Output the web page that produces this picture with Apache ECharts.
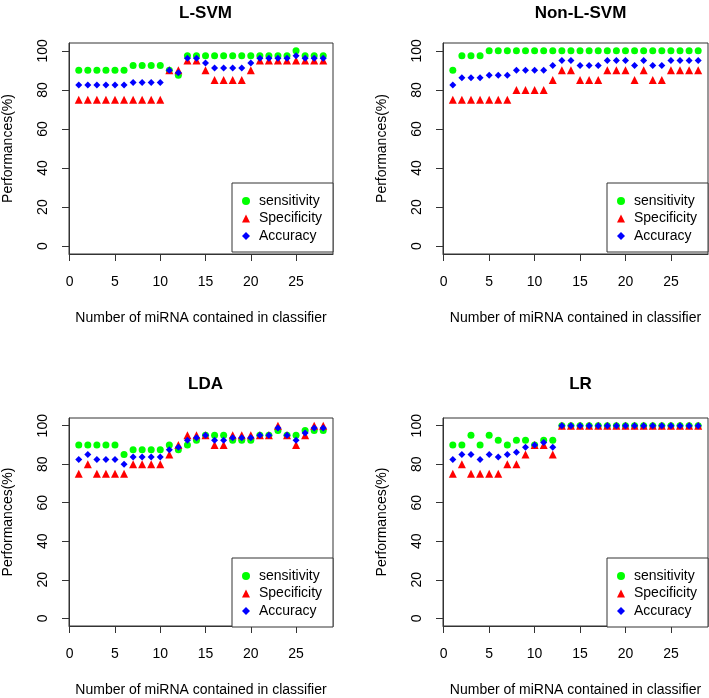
<!DOCTYPE html>
<html>
<head>
<meta charset="utf-8">
<script src="https://cdn.jsdelivr.net/npm/echarts@6/dist/echarts.min.js"></script>
<style>html,body{margin:0;padding:0;background:#fff;}#c{width:709px;height:698px;}</style>
</head>
<body>
<div id="c"></div>
<script>
const xValues = [1,2,3,4,5,6,7,8,9,10,11,12,13,14,15,16,17,18,19,20,21,22,23,24,25,26,27,28];
const xTicks = [0,5,10,15,20,25];
const yTicks = [0,20,40,60,80,100];
const panelTitles = ['L-SVM','Non-L-SVM','LDA','LR'];
const seriesNames = ['sensitivity','Specificity','Accuracy'];
const xTitle = 'Number of miRNA contained in classifier';
const yTitle = 'Performances(%)';

const svmSens = [90,90,90,90,90,90,92.5,92.5,92.5,92.5,90,87.5,97.5,97.5,97.5,97.5,97.5,97.5,97.5,97.5,97.5,97.5,97.5,97.5,100,97.5,97.5,97.5];
const svmSpec = [75,75,75,75,75,75,75,75,75,75,90,90,95,95,90,85,85,85,85,90,95,95,95,95,95,95,95,95];
const svmAcc  = [82.5,82.5,82.5,82.5,82.5,82.5,83.75,83.75,83.75,83.75,90,88.75,96.25,96.25,93.75,91.25,91.25,91.25,91.25,93.75,96.25,96.25,96.25,96.25,97.5,96.25,96.25,96.25];

const nlSens = [90,97.5,97.5,97.5,100,100,100,100,100,100,100,100,100,100,100,100,100,100,100,100,100,100,100,100,100,100,100,100];
const nlSpec = [75,75,75,75,75,75,75,80,80,80,80,85,90,90,85,85,85,90,90,90,85,90,85,85,90,90,90,90];
const nlAcc  = [82.5,86.25,86.25,86.25,87.5,87.5,87.5,90,90,90,90,92.5,95,95,92.5,92.5,92.5,95,95,95,92.5,95,92.5,92.5,95,95,95,95];

const ldaSens = [90,90,90,90,90,85,87.5,87.5,87.5,87.5,90,87.5,90,92.5,95,95,95,92.5,92.5,92.5,95,95,97.5,95,95,97.5,97.5,97.5];
const ldaSpec = [75,80,75,75,75,75,80,80,80,80,85,90,95,95,95,90,90,95,95,95,95,95,100,95,90,95,100,100];
const ldaAcc  = [82.5,85,82.5,82.5,82.5,80,83.75,83.75,83.75,83.75,87.5,88.75,92.5,93.75,95,92.5,92.5,93.75,93.75,93.75,95,95,98.75,95,92.5,96.25,98.75,98.75];

const lrSens = [90,90,95,90,95,92.5,90,92.5,92.5,90,92.5,92.5,100,100,100,100,100,100,100,100,100,100,100,100,100,100,100,100];
const lrSpec = [75,80,75,75,75,75,80,80,85,90,90,85,100,100,100,100,100,100,100,100,100,100,100,100,100,100,100,100];
const lrAcc  = [82.5,85,85,82.5,85,83.75,85,86.25,88.75,90,91.25,88.75,100,100,100,100,100,100,100,100,100,100,100,100,100,100,100,100];

const panelData = [
  [svmSens, svmSpec, svmAcc],
  [nlSens, nlSpec, nlAcc],
  [ldaSens, ldaSpec, ldaAcc],
  [lrSens, lrSpec, lrAcc]
];

const FONT = '"Liberation Sans", Arial, Helvetica, sans-serif';
const boxes = [
  {left: 68, top: 43, titleTop: 0},
  {left: 443, top: 43, titleTop: 0},
  {left: 68, top: 418, titleTop: 371},
  {left: 443, top: 418, titleTop: 371}
];
const BW = 265, BH = 211;
const symbols = [
  {symbol: 'circle', size: 7, color: '#00ff00'},
  {symbol: 'triangle', size: 8, color: '#ff0000'},
  {symbol: 'diamond', size: 7, color: '#0000ff'}
];

const grid = [], xAxis = [], yAxis = [], series = [], title = [], legend = [];
boxes.forEach((b, i) => {
  grid.push({left: b.left, top: b.top, width: BW, height: BH, show: true, borderColor: '#333', borderWidth: 1, backgroundColor: 'transparent', containLabel: false});
  xAxis.push({
    gridIndex: i, type: 'value', min: -0.08, max: 29.08,
    axisLine: {show: true, onZero: false, lineStyle: {color: '#333', width: 1}},
    splitLine: {show: false},
    axisTick: {show: true, inside: false, length: 7, customValues: xTicks, lineStyle: {color: '#333', width: 1}},
    axisLabel: {customValues: xTicks, fontSize: 14, fontFamily: FONT, color: '#000', margin: 21},
    name: xTitle, nameLocation: 'middle', nameGap: 57,
    nameTextStyle: {fontSize: 14, fontFamily: FONT, color: '#000'}
  });
  yAxis.push({
    gridIndex: i, type: 'value', min: -4, max: 104,
    axisLine: {show: true, onZero: false, lineStyle: {color: '#333', width: 1}},
    splitLine: {show: false},
    axisTick: {show: true, inside: false, length: 7, customValues: yTicks, lineStyle: {color: '#333', width: 1}},
    axisLabel: {customValues: yTicks, fontSize: 14, fontFamily: FONT, color: '#000', rotate: 90, align: 'center', verticalAlign: 'bottom', margin: 19},
    name: yTitle, nameLocation: 'middle', nameRotate: 90, nameGap: 54,
    nameTextStyle: {fontSize: 14, fontFamily: FONT, color: '#000'}
  });
  title.push({
    text: panelTitles[i], left: b.left + BW / 2, top: b.titleTop, textAlign: 'center',
    textStyle: {fontSize: 17, fontWeight: 'bold', fontFamily: FONT, color: '#000'}
  });
  legend.push({
    left: b.left + 164, top: b.top + 140, orient: 'vertical',
    padding: [10, 11, 8, 10], itemGap: 1.5, itemWidth: 8, itemHeight: 8,
    borderColor: '#333', borderWidth: 1, borderRadius: 0, backgroundColor: '#fff',
    selectedMode: false,
    textStyle: {fontSize: 14, fontFamily: FONT, color: '#000', lineHeight: 16, padding: [0, 0, 0, 4]},
    data: seriesNames.map((n, k) => ({name: n, icon: symbols[k].symbol, itemStyle: {color: symbols[k].color}}))
  });
  panelData[i].forEach((arr, k) => {
    series.push({
      type: 'scatter', name: seriesNames[k], xAxisIndex: i, yAxisIndex: i,
      symbol: symbols[k].symbol, symbolSize: symbols[k].size,
      itemStyle: {color: symbols[k].color, opacity: 1},
      emphasis: {disabled: true},
      z: 2 + k,
      data: xValues.map((x, j) => [x, arr[j]])
    });
  });
});

const chart = echarts.init(document.getElementById('c'), null, {renderer: 'canvas'});
chart.setOption({
  animation: false,
  backgroundColor: '#fff',
  textStyle: {fontFamily: FONT},
  title, legend, grid, xAxis, yAxis, series
});
</script>
</body>
</html>
